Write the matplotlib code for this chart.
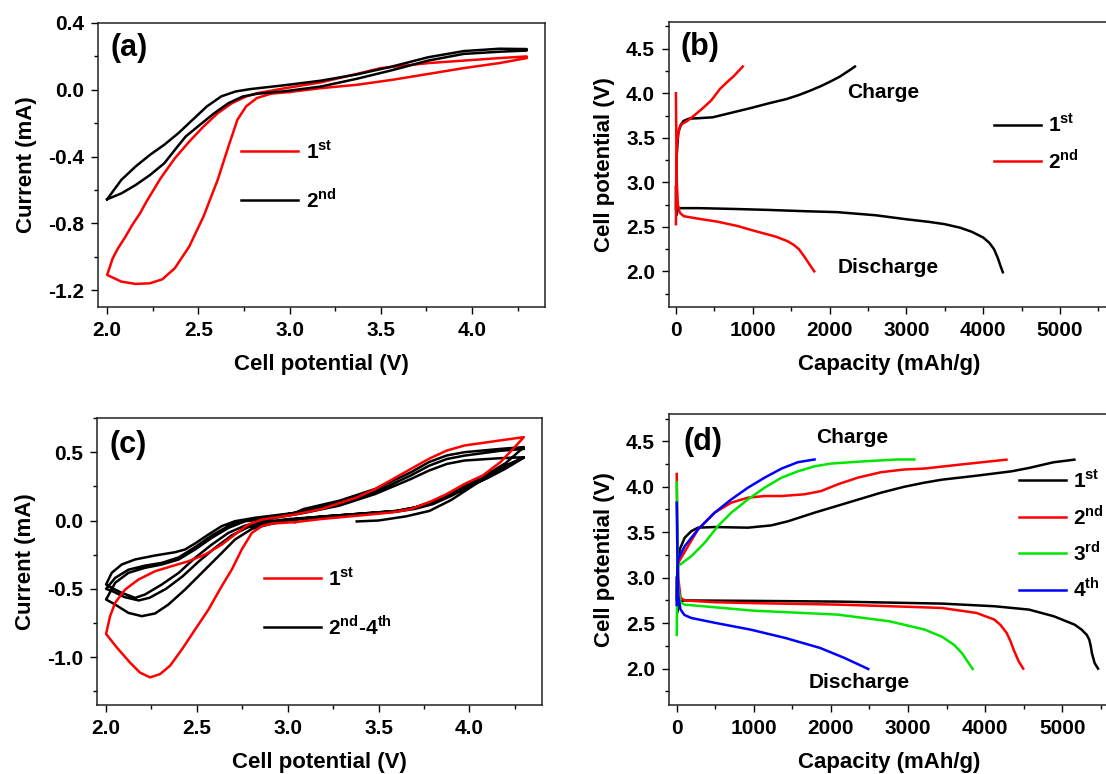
import numpy as np
import matplotlib
matplotlib.use("Agg")
import matplotlib.pyplot as plt
from matplotlib.ticker import MultipleLocator

plt.rcParams['font.family'] = ['Liberation Sans', 'DejaVu Sans']
plt.rcParams['font.weight'] = 'bold'
plt.rcParams['axes.labelweight'] = 'bold'
plt.rcParams['axes.unicode_minus'] = False
plt.rcParams['mathtext.fontset'] = 'custom'
plt.rcParams['mathtext.bf'] = 'Liberation Sans:bold'
plt.rcParams['mathtext.rm'] = 'Liberation Sans:bold'

RED = '#ff0000'
GREEN = '#00e600'
BLUE = '#0000ff'

# ---------------- (a) CV, 1st and 2nd cycle ----------------
a_red_v = [3.0, 2.9, 2.821, 2.762, 2.714, 2.665, 2.606, 2.528, 2.45, 2.371, 2.303, 2.235, 2.156, 2.078, 2.0,
           2.015, 2.03, 2.059, 2.1, 2.137, 2.18, 2.215, 2.293, 2.371, 2.45, 2.528, 2.606, 2.684, 2.762, 2.821,
           2.977, 3.173, 3.368, 3.5, 3.76, 3.955, 4.15, 4.3,
           4.3, 4.15, 3.955, 3.76, 3.564, 3.368, 3.173, 3.0]
a_red_i = [-0.013, -0.023, -0.049, -0.099, -0.179, -0.339, -0.539, -0.759, -0.938, -1.068, -1.134, -1.158, -1.162, -1.148, -1.108,
           -1.06, -1.01, -0.95, -0.88, -0.81, -0.74, -0.67, -0.53, -0.41, -0.31, -0.22, -0.14, -0.08, -0.04, -0.02,
           0.01, 0.045, 0.095, 0.13, 0.16, 0.175, 0.19, 0.2,
           0.19, 0.16, 0.13, 0.095, 0.06, 0.03, 0.01, -0.013]

a_blk_v = [2.0, 2.078, 2.156, 2.235, 2.313, 2.391, 2.469, 2.547, 2.626, 2.704, 2.782, 2.977, 3.173, 3.368, 3.564, 3.76, 3.955, 4.15, 4.3,
           4.3, 4.15, 3.955, 3.76, 3.564, 3.368, 3.173, 2.977, 2.821, 2.743, 2.665, 2.587, 2.508, 2.43, 2.371, 2.313, 2.235, 2.156, 2.078, 2.0]
a_blk_i = [-0.655, -0.539, -0.459, -0.389, -0.329, -0.259, -0.179, -0.099, -0.039, -0.01, 0.004, 0.028, 0.055, 0.092, 0.14, 0.195, 0.232, 0.246, 0.244,
           0.235, 0.228, 0.215, 0.175, 0.118, 0.066, 0.02, -0.008, -0.024, -0.04, -0.08, -0.14, -0.21, -0.28, -0.36, -0.44, -0.51, -0.57, -0.62, -0.655]

# ---------------- (b) charge/discharge, 1st and 2nd ----------------
b1_dis_cap = [0, 5, 20, 50, 300, 800, 1200, 1700, 2100, 2600, 3000, 3300, 3500, 3700, 3850, 4000, 4080, 4140, 4190, 4225, 4255]
b1_dis_v = [2.95, 2.63, 2.69, 2.71, 2.71, 2.70, 2.69, 2.675, 2.665, 2.63, 2.585, 2.555, 2.53, 2.49, 2.445, 2.38, 2.32, 2.25, 2.15, 2.06, 1.99]
b1_chg_cap = [0, 10, 30, 60, 100, 170, 300, 480, 670, 980, 1200, 1440, 1600, 1750, 1900, 2030, 2130, 2210, 2280, 2330]
b1_chg_v = [2.7, 3.3, 3.55, 3.64, 3.69, 3.715, 3.72, 3.73, 3.77, 3.835, 3.885, 3.935, 3.98, 4.03, 4.085, 4.14, 4.185, 4.23, 4.27, 4.3]
b2_dis_cap = [0, 5, 12, 25, 50, 100, 300, 530, 800, 1000, 1300, 1450, 1530, 1600, 1660, 1730, 1800]
b2_dis_v = [4.0, 3.5, 3.0, 2.75, 2.66, 2.62, 2.59, 2.56, 2.51, 2.46, 2.39, 2.34, 2.30, 2.25, 2.18, 2.09, 2.0]
b2_chg_cap = [0, 5, 15, 40, 80, 150, 265, 360, 460, 575, 660, 756, 870]
b2_chg_v = [2.53, 3.1, 3.45, 3.6, 3.655, 3.69, 3.77, 3.84, 3.92, 4.05, 4.12, 4.195, 4.3]

# ---------------- (c) CV, 1st and 2nd-4th cycles ----------------
c_red_v = [3.04, 2.913, 2.858, 2.803, 2.747, 2.692, 2.637, 2.564, 2.49, 2.417, 2.352, 2.297, 2.242, 2.187, 2.132, 2.059, 2.0,
           2.022, 2.05, 2.105, 2.178, 2.27, 2.362, 2.454, 2.545, 2.637, 2.71, 2.784, 2.858, 3.04,
           3.186, 3.383, 3.482, 3.58, 3.679, 3.777, 3.876, 3.974, 4.171, 4.3,
           4.25, 4.171, 4.073, 3.974, 3.876, 3.777, 3.679, 3.58, 3.383, 3.186, 3.04]
c_red_i = [-0.012, -0.022, -0.041, -0.09, -0.212, -0.359, -0.48, -0.651, -0.798, -0.944, -1.063, -1.124, -1.148, -1.113, -1.04, -0.929, -0.83,
           -0.70, -0.602, -0.505, -0.432, -0.371, -0.334, -0.298, -0.249, -0.176, -0.102, -0.029, 0.007, 0.044,
           0.084, 0.17, 0.231, 0.304, 0.378, 0.451, 0.512, 0.549, 0.586, 0.61,
           0.537, 0.427, 0.329, 0.268, 0.194, 0.133, 0.084, 0.06, 0.035, 0.011, -0.012]

c_blk_v = [3.38, 3.5, 3.65, 3.78, 3.9, 4.05, 4.2, 4.3,
           # cathodic, 2nd
           4.2, 4.1, 4.0, 3.9, 3.8, 3.7, 3.6, 3.4, 3.2, 3.0, 2.895, 2.803, 2.71, 2.619, 2.527, 2.435, 2.343, 2.27, 2.197, 2.123, 2.05, 2.0,
           # anodic
           2.05, 2.123, 2.215, 2.307, 2.4, 2.49, 2.582, 2.674, 2.766, 2.895, 3.088, 3.285, 3.482, 3.679, 3.777, 3.876, 3.974, 4.171, 4.3,
           # cathodic, 3rd
           4.2, 4.1, 4.0, 3.9, 3.8, 3.7, 3.6, 3.4, 3.2, 3.0, 2.858, 2.766, 2.674, 2.582, 2.49, 2.4, 2.307, 2.215, 2.16, 2.086, 2.031, 2.0,
           # anodic
           2.031, 2.086, 2.16, 2.27, 2.38, 2.435, 2.49, 2.564, 2.637, 2.71, 2.82, 3.04, 3.088, 3.285, 3.482, 3.679, 3.777, 3.876, 3.974, 4.171, 4.3,
           # cathodic, 4th
           4.2, 4.1, 4.0, 3.9, 3.8, 3.7, 3.6, 3.4, 3.2, 3.0, 2.88, 2.78, 2.69, 2.6, 2.51, 2.42, 2.33, 2.24, 2.18, 2.1, 2.04, 2.0,
           # anodic
           2.05, 2.123, 2.215, 2.307, 2.4, 2.49, 2.582, 2.674, 2.766, 2.9, 3.088, 3.285, 3.482, 3.679, 3.777, 3.876, 3.974, 4.171, 4.3]
c_blk_i = [-0.007, 0.0, 0.03, 0.07, 0.15, 0.28, 0.40, 0.46,
           0.38, 0.31, 0.25, 0.18, 0.12, 0.085, 0.065, 0.045, 0.025, 0.0, -0.029, -0.061, -0.139, -0.261, -0.383, -0.505, -0.615, -0.68, -0.70, -0.676, -0.615, -0.578,
           -0.456, -0.383, -0.346, -0.322, -0.285, -0.212, -0.127, -0.054, -0.005, 0.012, 0.055, 0.109, 0.194, 0.304, 0.365, 0.414, 0.439, 0.456, 0.463,
           0.40, 0.33, 0.27, 0.20, 0.14, 0.095, 0.07, 0.05, 0.03, 0.01, -0.012, -0.037, -0.09, -0.176, -0.273, -0.383, -0.468, -0.541, -0.566, -0.529, -0.493, -0.468,
           -0.383, -0.322, -0.285, -0.256, -0.232, -0.212, -0.168, -0.102, -0.041, -0.005, 0.02, 0.056, 0.084, 0.145, 0.231, 0.353, 0.427, 0.476, 0.5, 0.524, 0.537,
           0.42, 0.34, 0.28, 0.20, 0.14, 0.095, 0.07, 0.05, 0.03, 0.005, -0.02, -0.05, -0.11, -0.2, -0.3, -0.41, -0.5, -0.565, -0.585, -0.56, -0.52, -0.50,
           -0.42, -0.36, -0.33, -0.31, -0.27, -0.195, -0.11, -0.04, 0.0, 0.02, 0.07, 0.128, 0.21, 0.33, 0.4, 0.45, 0.475, 0.51, 0.524]

# ---------------- (d) charge/discharge, 1st-4th ----------------
d1_dis_cap = [0, 10, 40, 100, 1000, 2090, 3440, 4120, 4570, 4890, 5160, 5250, 5320, 5350, 5370, 5385, 5420, 5465]
d1_dis_v = [3.0, 2.62, 2.74, 2.75, 2.745, 2.737, 2.715, 2.686, 2.649, 2.576, 2.484, 2.43, 2.37, 2.32, 2.25, 2.172, 2.062, 2.0]
d1_chg_cap = [0, 10, 39, 104, 190, 276, 492, 924, 1226, 1442, 1788, 2220, 2651, 2953, 3212, 3442, 3893, 4345, 4571, 4887, 5158]
d1_chg_v = [2.78, 3.1, 3.31, 3.44, 3.512, 3.55, 3.557, 3.55, 3.575, 3.62, 3.715, 3.825, 3.935, 4.0, 4.045, 4.078, 4.122, 4.17, 4.207, 4.269, 4.298]
d2_dis_cap = [0, 8, 20, 50, 100, 500, 1000, 2090, 3000, 3440, 3890, 4120, 4200, 4280, 4330, 4370, 4435, 4494]
d2_dis_v = [4.14, 3.6, 3.0, 2.78, 2.75, 2.73, 2.72, 2.704, 2.68, 2.667, 2.612, 2.539, 2.48, 2.392, 2.3, 2.209, 2.081, 2.0]
d2_chg_cap = [0, 8, 17, 147, 276, 492, 708, 924, 1140, 1360, 1658, 1874, 2090, 2349, 2651, 2953, 3212, 3668, 4277]
d2_chg_v = [2.75, 2.95, 3.16, 3.347, 3.531, 3.715, 3.825, 3.88, 3.898, 3.898, 3.917, 3.953, 4.027, 4.10, 4.16, 4.19, 4.2, 4.243, 4.298]
d3_dis_cap = [0, 8, 20, 50, 100, 1000, 1183, 2087, 2764, 3216, 3442, 3600, 3700, 3839]
d3_dis_v = [4.05, 3.5, 2.9, 2.73, 2.704, 2.637, 2.63, 2.594, 2.52, 2.429, 2.35, 2.26, 2.17, 1.996]
d3_chg_cap = [0, 5, 17, 190, 363, 535, 708, 924, 1140, 1360, 1572, 1788, 2003, 2435, 2867, 3083]
d3_chg_v = [2.37, 2.8, 3.127, 3.237, 3.384, 3.568, 3.715, 3.861, 3.99, 4.10, 4.17, 4.225, 4.255, 4.28, 4.30, 4.30]
d4_dis_cap = [0, 8, 20, 50, 100, 190, 506, 958, 1409, 1861, 2177, 2484]
d4_dis_v = [3.825, 3.3, 2.8, 2.65, 2.59, 2.557, 2.502, 2.429, 2.337, 2.227, 2.117, 1.996]
d4_chg_cap = [0, 5, 17, 104, 276, 492, 708, 924, 1140, 1360, 1572, 1788]
d4_chg_v = [2.7, 3.0, 3.2, 3.347, 3.531, 3.715, 3.861, 3.99, 4.10, 4.2, 4.27, 4.30]

W, H = 1106, 774
fig = plt.figure(figsize=(W / 100, H / 100), dpi=100)


def px_axes(l, r, t, b):
    return fig.add_axes([l / W, (H - b) / H, (r - l) / W, (b - t) / H])


def style(ax, xmaj, xmin, ymaj, ymin):
    ax.xaxis.set_major_locator(MultipleLocator(xmaj))
    ax.xaxis.set_minor_locator(MultipleLocator(xmin))
    ax.yaxis.set_major_locator(MultipleLocator(ymaj))
    ax.yaxis.set_minor_locator(MultipleLocator(ymin))
    ax.tick_params(which='major', direction='out', length=5, width=1.0, labelsize=15, pad=5)
    ax.tick_params(which='minor', direction='out', length=3, width=1.0)
    for s in ax.spines.values():
        s.set_linewidth(1.1)
        s.set_color('#222222')
    for lab in ax.get_xticklabels() + ax.get_yticklabels():
        lab.set_fontweight('bold')


LW = 1.8
leg_kw = dict(frameon=False, fontsize=15, borderpad=0, borderaxespad=0, handletextpad=0.35)

# (a)
ax = px_axes(98, 545, 23, 307)
ax.plot(a_red_v, a_red_i, color=RED, lw=LW, label='1$^{\\mathbf{st}}$')
ax.plot(a_blk_v, a_blk_i, color='k', lw=LW, label='2$^{\\mathbf{nd}}$')
ax.set_xlim(1.95, 4.40)
ax.set_ylim(-1.3, 0.4)
style(ax, 0.5, 0.25, 0.4, 0.2)
ax.set_xlabel('Cell potential (V)', fontsize=16, labelpad=10)
ax.set_ylabel('Current (mA)', fontsize=16, labelpad=8)
ax.text(0.027, 0.912, '(a)', transform=ax.transAxes, fontsize=22, fontweight='bold', va='center')
ax.legend(loc='center left', bbox_to_anchor=(0.32, 0.463), handlelength=2.75, labelspacing=1.2, **leg_kw)

# (b)
ax = px_axes(669, 1110, 22, 307)
ax.plot(b1_dis_cap, b1_dis_v, color='k', lw=LW, label='1$^{\\mathbf{st}}$')
ax.plot(b1_chg_cap, b1_chg_v, color='k', lw=LW)
ax.plot(b2_dis_cap, b2_dis_v, color=RED, lw=LW, label='2$^{\\mathbf{nd}}$')
ax.plot(b2_chg_cap, b2_chg_v, color=RED, lw=LW)
ax.set_xlim(-90, 5650)
ax.set_ylim(1.6, 4.8)
style(ax, 1000, 500, 0.5, 0.25)
ax.spines['right'].set_visible(False)
ax.set_xlabel('Capacity (mAh/g)', fontsize=16, labelpad=10)
ax.set_ylabel('Cell potential (V)', fontsize=16, labelpad=8)
ax.text(0.027, 0.912, '(b)', transform=ax.transAxes, fontsize=22, fontweight='bold', va='center')
ax.text(2227, 4.01, 'Charge', fontsize=15, fontweight='bold', va='center')
ax.text(2109, 2.045, 'Discharge', fontsize=15, fontweight='bold', va='center')
ax.legend(loc='center left', bbox_to_anchor=(0.737, 0.575), handlelength=2.25, labelspacing=0.6, **leg_kw)

# (c)
ax = px_axes(97, 542, 418, 705)
ax.plot(c_red_v, c_red_i, color=RED, lw=LW, label='1$^{\\mathbf{st}}$', zorder=3)
ax.plot(c_blk_v, c_blk_i, color='k', lw=LW, label='2$^{\\mathbf{nd}}$-4$^{\\mathbf{th}}$', zorder=2)
ax.set_xlim(1.95, 4.40)
ax.set_ylim(-1.35, 0.75)
style(ax, 0.5, 0.25, 0.5, 0.25)
ax.set_xlabel('Cell potential (V)', fontsize=16, labelpad=10)
ax.set_ylabel('Current (mA)', fontsize=16, labelpad=8)
ax.text(0.027, 0.906, '(c)', transform=ax.transAxes, fontsize=22, fontweight='bold', va='center')
ax.legend(loc='center left', bbox_to_anchor=(0.375, 0.357), handlelength=2.75, labelspacing=1.2, **leg_kw)

# (d)
ax = px_axes(669, 1110, 414, 705)
ax.plot(d1_dis_cap, d1_dis_v, color='k', lw=LW, label='1$^{\\mathbf{st}}$')
ax.plot(d1_chg_cap, d1_chg_v, color='k', lw=LW)
ax.plot(d2_dis_cap, d2_dis_v, color=RED, lw=LW, label='2$^{\\mathbf{nd}}$')
ax.plot(d2_chg_cap, d2_chg_v, color=RED, lw=LW)
ax.plot(d3_dis_cap, d3_dis_v, color=GREEN, lw=LW, label='3$^{\\mathbf{rd}}$')
ax.plot(d3_chg_cap, d3_chg_v, color=GREEN, lw=LW)
ax.plot(d4_dis_cap, d4_dis_v, color=BLUE, lw=LW, label='4$^{\\mathbf{th}}$')
ax.plot(d4_chg_cap, d4_chg_v, color=BLUE, lw=LW)
ax.set_xlim(-100, 5620)
ax.set_ylim(1.6, 4.8)
style(ax, 1000, 500, 0.5, 0.25)
ax.spines['right'].set_visible(False)
ax.set_xlabel('Capacity (mAh/g)', fontsize=16, labelpad=10)
ax.set_ylabel('Cell potential (V)', fontsize=16, labelpad=8)
ax.text(0.034, 0.904, '(d)', transform=ax.transAxes, fontsize=22, fontweight='bold', va='center')
ax.text(1813, 4.54, 'Charge', fontsize=15, fontweight='bold', va='center')
ax.text(1710, 1.846, 'Discharge', fontsize=15, fontweight='bold', va='center')
ax.legend(loc='center left', bbox_to_anchor=(0.794, 0.584), handlelength=2.25, labelspacing=0.6, **leg_kw)

fig.savefig('out.png', dpi=100)
